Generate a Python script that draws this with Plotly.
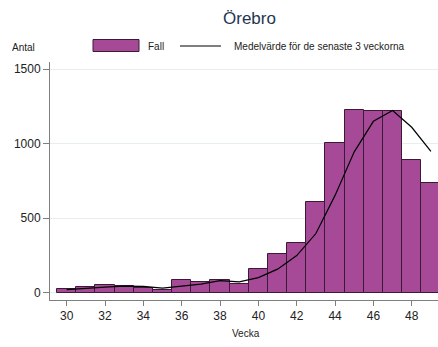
import plotly.graph_objects as go

weeks = [30, 31, 32, 33, 34, 35, 36, 37, 38, 39, 40, 41, 42, 43, 44, 45, 46, 47, 48, 49]
cases = [22, 38, 48, 42, 32, 15, 84, 73, 82, 59, 155, 258, 330, 607, 1001, 1225, 1220, 1220, 887, 737]
mean3 = [20, 30, 36, 43, 41, 30, 44, 57, 80, 72, 100, 157, 248, 396, 652, 944, 1149, 1222, 1109, 948]
x_ticks = [30, 32, 34, 36, 38, 40, 42, 44, 46, 48]
y_ticks = [0, 500, 1000, 1500]

title_text = "Örebro"
bar_name = "Fall"
line_name = "Medelvärde för de senaste 3 veckorna"
y_title = "Antal"
x_title = "Vecka"

BAR = "#a64a98"
EDGE = "#3a1a36"
FONT = "Liberation Sans, Arial, sans-serif"

W, H = 438, 347
L, R, T, B = 50, 0, 62, 47
PW, PH = W - L - R, H - T - B

def px_x(p):
    return (p - L) / PW

def px_y(p):
    return (H - B - p) / PH

fig = go.Figure()
fig.add_trace(go.Bar(x=weeks, y=cases, width=1, marker=dict(color=BAR, line=dict(color=EDGE, width=1)),
                     name=bar_name, showlegend=False))
fig.add_trace(go.Scatter(x=weeks, y=mean3, mode="lines", line=dict(color="black", width=1.2),
                         name=line_name, showlegend=False))

fig.update_layout(
    width=W, height=H,
    margin=dict(l=L, r=R, t=T, b=B),
    paper_bgcolor="white", plot_bgcolor="white",
    font=dict(family=FONT, color="#222222"),
    bargap=0,
    xaxis=dict(range=[29.13, 49.37], tickvals=x_ticks, ticks="outside", ticklen=5, tickcolor="#7f7f7f",
               showline=True, linecolor="#7f7f7f", linewidth=1, showgrid=False, zeroline=False,
               tickfont=dict(size=12, color="#222222")),
    yaxis=dict(range=[-50, 1547], tickvals=y_ticks, ticks="outside", ticklen=6, tickcolor="#7f7f7f",
               showline=True, linecolor="#7f7f7f", linewidth=1, showgrid=True, gridcolor="#e6eeee",
               gridwidth=1, zeroline=False, tickfont=dict(size=12, color="#222222")),
    showlegend=False,
)

annotations = [
    dict(text=title_text, x=px_x(249.5), y=px_y(19), xref="paper", yref="paper", showarrow=False,
         xanchor="center", yanchor="middle", font=dict(size=17, color="#1f3552", family=FONT)),
    dict(text=y_title, x=px_x(10), y=px_y(47), xref="paper", yref="paper", showarrow=False,
         xanchor="left", yanchor="middle", font=dict(size=10, color="#222222", family=FONT)),
    dict(text=x_title, x=px_x(246), y=px_y(333), xref="paper", yref="paper", showarrow=False,
         xanchor="center", yanchor="middle", font=dict(size=10, color="#222222", family=FONT)),
    dict(text=bar_name, x=px_x(146), y=px_y(46), xref="paper", yref="paper", showarrow=False,
         xanchor="left", yanchor="middle", font=dict(size=10, color="#222222", family=FONT)),
    dict(text=line_name, x=px_x(232), y=px_y(46), xref="paper", yref="paper", showarrow=False,
         xanchor="left", yanchor="middle", font=dict(size=10, color="#222222", family=FONT)),
]
shapes = [
    dict(type="rect", xref="paper", yref="paper", x0=px_x(93), x1=px_x(139), y0=px_y(51.5), y1=px_y(39.5),
         fillcolor=BAR, line=dict(color=EDGE, width=1)),
    dict(type="line", xref="paper", yref="paper", x0=px_x(180), x1=px_x(221), y0=px_y(46), y1=px_y(46),
         line=dict(color="black", width=1.2)),
]
fig.update_layout(annotations=annotations, shapes=shapes)

fig.write_html("out.html", config={"displayModeBar": False},
               post_script="document.body.style.margin='0px';document.body.style.overflow='hidden';")
